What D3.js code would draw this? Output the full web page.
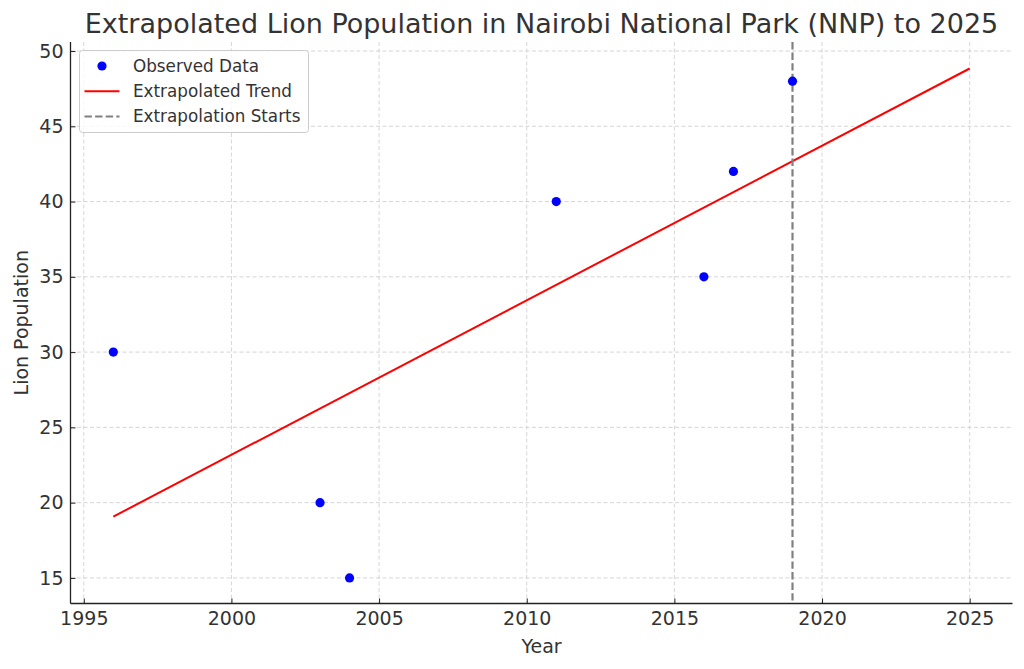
<!DOCTYPE html>
<html><head><meta charset="utf-8">
<script src="https://cdn.jsdelivr.net/npm/d3@7"></script>
<style>body{margin:0;background:#fff;} svg{display:block;font-family:"DejaVu Sans",sans-serif;}</style>
</head><body><svg id="c" width="1024" height="669"></svg>
<script>
const obsYears = [1996, 2003, 2004, 2011, 2016, 2017, 2019];
const obsValues = [30, 20, 15, 40, 35, 42, 48];
const trendYears = [1996, 2025];
const trendValues = [19.07, 48.84];
const extrapStart = 2019;
const xTicks = [1995, 2000, 2005, 2010, 2015, 2020, 2025];
const yTicks = [15, 20, 25, 30, 35, 40, 45, 50];
const title = "Extrapolated Lion Population in Nairobi National Park (NNP) to 2025";

const svg = d3.select("#c");
const L = 70.5, R = 1012.5, T = 42, B = 603.5;
const x = d3.scaleLinear().domain([1994.55, 2026.45]).range([L, R]);
const y = d3.scaleLinear().domain([13.3, 50.6]).range([B, T]);
const txt = "#333333";

// grid
const g = svg.append("g");
g.selectAll("line.gx").data(xTicks).join("line")
  .attr("x1", d => x(d)).attr("x2", d => x(d)).attr("y1", T).attr("y2", B)
  .attr("stroke", "#cccccc").attr("stroke-width", 0.8).attr("stroke-dasharray", "4,2.5");
g.selectAll("line.gy").data(yTicks).join("line")
  .attr("y1", d => y(d)).attr("y2", d => y(d)).attr("x1", L).attr("x2", R)
  .attr("stroke", "#cccccc").attr("stroke-width", 0.8).attr("stroke-dasharray", "4,2.5");

// axes
const xAxis = svg.append("g").attr("transform", `translate(0,${B})`)
  .call(d3.axisBottom(x).tickValues(xTicks).tickFormat(d3.format("d")).tickSize(-5).tickSizeOuter(0));
const yAxis = svg.append("g").attr("transform", `translate(${L},0)`)
  .call(d3.axisLeft(y).tickValues(yTicks).tickSize(-5).tickSizeOuter(0));
[xAxis, yAxis].forEach(a => {
  a.select(".domain").attr("stroke", "#222").attr("stroke-width", 1.3);
  a.selectAll(".tick line").attr("stroke", "#222").attr("stroke-width", 1);
  a.selectAll(".tick text").attr("fill", txt).attr("font-size", 19).attr("font-family", "DejaVu Sans");
});
xAxis.select(".domain").attr("d", `M${L},0H${R}`);
yAxis.select(".domain").attr("d", `M0,${B}V${T}`);
xAxis.selectAll(".tick text").attr("y", 21).attr("dy", 0);
yAxis.selectAll(".tick text").attr("x", -7);

// trend line
const line = d3.line().x((d, i) => x(trendYears[i])).y(d => y(d));
svg.append("path").datum(trendValues).attr("d", line)
  .attr("fill", "none").attr("stroke", "#ff0000").attr("stroke-width", 2);

// extrapolation start
svg.append("line").attr("x1", x(extrapStart)).attr("x2", x(extrapStart)).attr("y1", T).attr("y2", B)
  .attr("stroke", "#808080").attr("stroke-width", 2.2).attr("stroke-dasharray", "7.4,3.2");

// points
svg.selectAll("circle.o").data(obsYears).join("circle")
  .attr("cx", d => x(d)).attr("cy", (d, i) => y(obsValues[i])).attr("r", 4.6).attr("fill", "#0000ff");

// title & labels
svg.append("text").attr("x", (L + R) / 2).attr("y", 33).attr("text-anchor", "middle")
  .attr("font-size", 27).attr("fill", txt).text(title);
svg.append("text").attr("x", (L + R) / 2).attr("y", 653).attr("text-anchor", "middle")
  .attr("font-size", 19).attr("fill", txt).text("Year");
svg.append("text").attr("transform", `translate(28,${(T + B) / 2}) rotate(-90)`).attr("text-anchor", "middle")
  .attr("font-size", 19).attr("fill", txt).text("Lion Population");

// legend
const lg = svg.append("g").attr("transform", "translate(79.5,50.5)");
lg.append("rect").attr("width", 229).attr("height", 82).attr("rx", 3)
  .attr("fill", "#fff").attr("fill-opacity", 0.8).attr("stroke", "#cccccc").attr("stroke-width", 1);
const items = [
  {label: "Observed Data", type: "dot"},
  {label: "Extrapolated Trend", type: "line"},
  {label: "Extrapolation Starts", type: "dash"}
];
items.forEach((it, i) => {
  const cy = 15.5 + i * 25.3;
  if (it.type === "dot") lg.append("circle").attr("cx", 22.5).attr("cy", cy).attr("r", 4.6).attr("fill", "#0000ff");
  else lg.append("line").attr("x1", 5).attr("x2", 40).attr("y1", cy).attr("y2", cy)
    .attr("stroke", it.type === "line" ? "#ff0000" : "#808080").attr("stroke-width", 2)
    .attr("stroke-dasharray", it.type === "dash" ? "7.4,3.2" : null);
  lg.append("text").attr("x", 53.5).attr("y", cy).attr("dy", "0.35em").attr("font-size", 16.8).attr("fill", txt).text(it.label);
});
</script></body></html>
